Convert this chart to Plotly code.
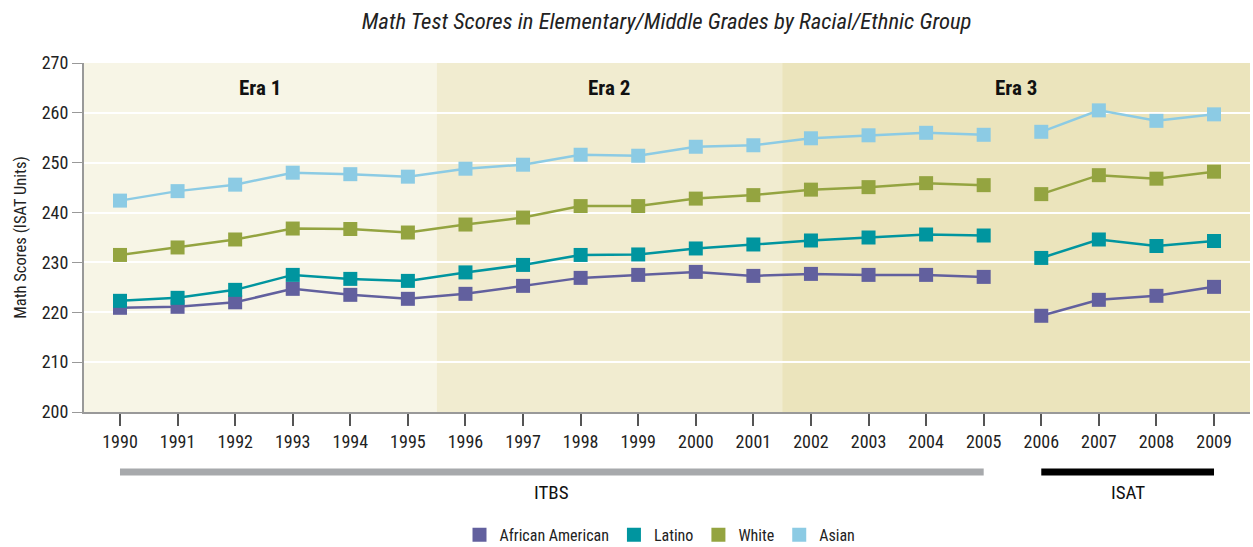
import plotly.graph_objects as go

years = list(range(1990, 2010))
african_american = [220.9, 221.1, 222.0, 224.7, 223.5, 222.7, 223.7, 225.3, 226.9, 227.5,
                    228.1, 227.3, 227.7, 227.5, 227.5, 227.1, 219.3, 222.5, 223.3, 225.1]
latino = [222.3, 222.9, 224.5, 227.5, 226.7, 226.3, 228.0, 229.5, 231.5, 231.6,
          232.8, 233.6, 234.4, 235.0, 235.6, 235.4, 230.9, 234.6, 233.3, 234.3]
white = [231.5, 233.0, 234.6, 236.8, 236.7, 236.0, 237.6, 239.0, 241.3, 241.3,
         242.8, 243.5, 244.6, 245.1, 245.9, 245.5, 243.7, 247.5, 246.8, 248.2]
asian = [242.4, 244.3, 245.6, 248.0, 247.7, 247.2, 248.8, 249.6, 251.6, 251.4,
         253.2, 253.5, 254.9, 255.5, 256.0, 255.6, 256.2, 260.5, 258.4, 259.7]

series_names = ["African American", "Latino", "White", "Asian"]
series_values = [african_american, latino, white, asian]
colors = ["#62609e", "#00959f", "#94a440", "#8ccbe4"]

eras = ["Era 1", "Era 2", "Era 3"]
era_bounds = [(1989.375, 1995.5), (1995.5, 2001.5), (2001.5, 2009.625)]
era_colors = ["#f7f5e6", "#f1ecd0", "#ebe4bc"]

tests = ["ITBS", "ISAT"]
test_ranges = [(1990, 2005), (2006, 2009)]
test_colors = ["#a7a9ac", "#000000"]

y_ticks = [200, 210, 220, 230, 240, 250, 260, 270]
break_after = 2005

FONT = "Liberation Sans Narrow, Roboto Condensed, Arial Narrow, Liberation Sans, sans-serif"

fig = go.Figure()

for name, vals, col in zip(series_names, series_values, colors):
    xs, ys = [], []
    for yr, v in zip(years, vals):
        xs.append(yr)
        ys.append(v)
        if yr == break_after:
            xs.append(None)
            ys.append(None)
    fig.add_trace(go.Scatter(
        x=xs, y=ys, name=name, mode="lines+markers",
        line=dict(color=col, width=2.5),
        marker=dict(symbol="square", size=14, color=col),
        connectgaps=False, showlegend=False, legendgroup=name,
    ))
    # legend swatch only
    fig.add_trace(go.Scatter(
        x=[None], y=[None], name=name, mode="markers",
        marker=dict(symbol="square", size=14, color=col),
        showlegend=True, legendgroup=name,
    ))

shapes = []
annotations = []
for (x0, x1), c, label in zip(era_bounds, era_colors, eras):
    shapes.append(dict(type="rect", xref="x", yref="y", x0=x0, x1=x1, y0=200, y1=270,
                       fillcolor=c, line=dict(width=0), layer="below"))
    annotations.append(dict(x=(x0 + x1) / 2, y=265, xref="x", yref="y", text="<b>" + label + "</b>",
                            showarrow=False, yanchor="middle",
                            font=dict(family=FONT, size=21, color="#111111")))

for (x0, x1), c, label in zip(test_ranges, test_colors, tests):
    shapes.append(dict(type="line", xref="x", yref="paper", x0=x0, x1=x1, y0=-0.172, y1=-0.172,
                       line=dict(color=c, width=7)))
    annotations.append(dict(x=(x0 + x1) / 2, y=-0.23, xref="x", yref="paper", text=label,
                            showarrow=False, yanchor="middle",
                            font=dict(family=FONT, size=19, color="#111111")))

fig.update_layout(
    width=1253, height=547,
    margin=dict(l=84, r=3, t=63, b=135),
    paper_bgcolor="white",
    plot_bgcolor="white",
    title=dict(text="<i>Math Test Scores in Elementary/Middle Grades by Racial/Ethnic Group</i>",
               x=0.532, xanchor="center", y=0.962, yanchor="middle",
               font=dict(family=FONT, size=22.7, color="#222222")),
    font=dict(family=FONT, size=16, color="#222222"),
    shapes=shapes,
    annotations=annotations,
    legend=dict(orientation="h", x=0.494, xanchor="center",
                yref="container", y=0.022, yanchor="middle",
                font=dict(family=FONT, size=16, color="#222222"),
                traceorder="normal", itemwidth=30),
    showlegend=True,
)

fig.update_xaxes(
    range=[1989.375, 2009.625], tickmode="array", tickvals=years, ticktext=[str(y) for y in years],
    ticks="outside", ticklen=12, tickcolor="#555555", tickwidth=1.5,
    showline=True, linecolor="#999999", linewidth=2, showgrid=False, zeroline=False,
    tickfont=dict(family=FONT, size=18, color="#222222"), automargin=False,
)
fig.update_yaxes(
    range=[200, 270], tickmode="array", tickvals=y_ticks,
    ticks="outside", ticklen=10, tickcolor="#999999",
    showline=True, linecolor="#999999", linewidth=2,
    showgrid=True, gridcolor="white", gridwidth=1.5, zeroline=False, layer="above traces",
    title=dict(text="Math Scores (ISAT Units)", font=dict(family=FONT, size=16.5, color="#222222"), standoff=11),
    tickfont=dict(family=FONT, size=18, color="#222222"), automargin=False,
)

fig.write_html("out.html", config={"displayModeBar": False},
               post_script="document.body.style.margin='0';")
